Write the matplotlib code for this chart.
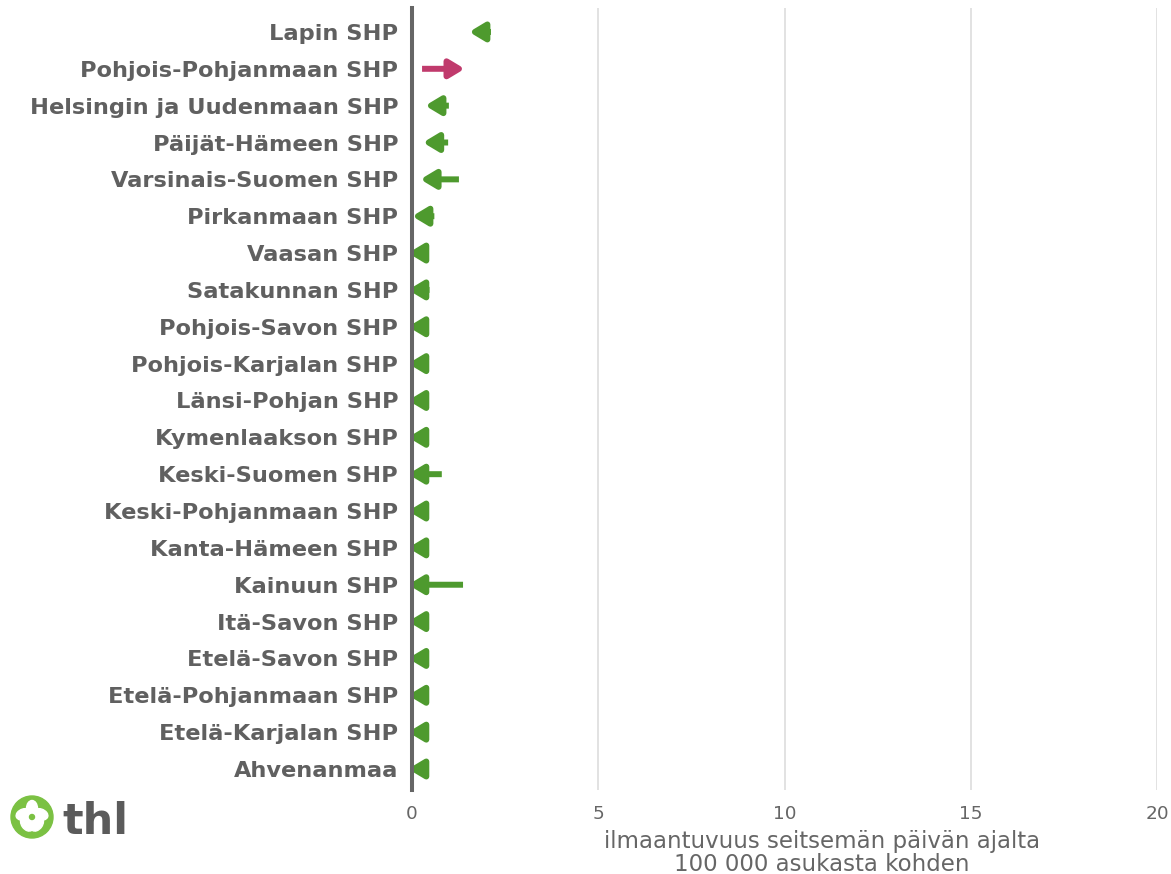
import math
import matplotlib.pyplot as plt
import matplotlib.transforms as mtransforms
from matplotlib.patches import Circle, Ellipse

# Sairaanhoitopiirit ja ilmaantuvuus (edellinen -> nykyinen viikko)
piirit = ['Lapin SHP', 'Pohjois-Pohjanmaan SHP', 'Helsingin ja Uudenmaan SHP',
          'Päijät-Hämeen SHP', 'Varsinais-Suomen SHP', 'Pirkanmaan SHP',
          'Vaasan SHP', 'Satakunnan SHP', 'Pohjois-Savon SHP',
          'Pohjois-Karjalan SHP', 'Länsi-Pohjan SHP', 'Kymenlaakson SHP',
          'Keski-Suomen SHP', 'Keski-Pohjanmaan SHP', 'Kanta-Hämeen SHP',
          'Kainuun SHP', 'Itä-Savon SHP', 'Etelä-Savon SHP',
          'Etelä-Pohjanmaan SHP', 'Etelä-Karjalan SHP', 'Ahvenanmaa']
alku = [2.12, 0.27, 0.99, 0.97, 1.26, 0.6,
        0.4, 0.47, 0.4, 0.4, 0.4, 0.4,
        0.8, 0.4, 0.4, 1.37, 0.4, 0.4, 0.4, 0.4, 0.4]
loppu = [1.64, 1.31, 0.46, 0.40, 0.33, 0.11,
         0, 0, 0, 0, 0, 0,
         0, 0, 0, 0, 0, 0, 0, 0, 0]
xtikit = [0, 5, 10, 15, 20]

vihrea = '#4e9a2e'
pinkki = '#c03a6c'
harmaa = '#606060'

fig = plt.figure(figsize=(11.71, 8.74), dpi=100)
ax = fig.add_axes([412 / 1171, 1 - 790 / 874, 745 / 1171, 782 / 874])

for i, (a, b) in enumerate(zip(alku, loppu)):
    ylos = b > a
    vari = pinkki if ylos else vihrea
    # kärki hieman eteenpäin, jotta pyöristetty kärki osuu arvoon
    siirto = mtransforms.offset_copy(ax.transData, fig=fig,
                                     x=4 if ylos else -4, units='dots')
    ax.annotate('', xy=(b, i), xycoords=siirto, xytext=(a, i), textcoords='data',
                arrowprops=dict(arrowstyle='-|>,head_length=0.45,head_width=0.27',
                                mutation_scale=20, color=vari, lw=4.3,
                                shrinkA=0, shrinkB=0, joinstyle='round',
                                capstyle='butt'),
                zorder=2, annotation_clip=False)

ax.set_xlim(0, 20)
ax.set_ylim(len(piirit) - 0.43, -0.65)
ax.set_yticks(range(len(piirit)))
ax.set_yticklabels(piirit, fontsize=16.2, fontweight='bold', color=harmaa)
ax.set_xticks(xtikit)
ax.set_xticklabels([str(t) for t in xtikit], fontsize=13.3, color='#666666')
ax.tick_params(axis='both', length=0)
ax.tick_params(axis='y', pad=10)
ax.tick_params(axis='x', pad=11)

for s in ['top', 'right', 'bottom']:
    ax.spines[s].set_visible(False)
ax.spines['left'].set_color('#666666')
ax.spines['left'].set_linewidth(2.9)
ax.spines['left'].set_zorder(5)

for t in xtikit[1:]:
    ax.axvline(t, color='#dddddd', lw=1.2, zorder=0)

fig.text(822 / 1171, 1 - 853 / 874,
         'ilmaantuvuus seitsemän päivän ajalta\n100 000 asukasta kohden',
         ha='center', va='center', fontsize=16.5, color='#666666', linespacing=1.0)

# THL-logo
lax = fig.add_axes([0, 0, 1, 1])
lax.set_xlim(0, 1171)
lax.set_ylim(874, 0)
lax.axis('off')
lax.add_patch(Circle((32, 817), 21, color='#7bc143'))
for k in range(5):
    kulma = 90 + 72 * k
    cx = 32 + 8.5 * math.cos(math.radians(kulma))
    cy = 817 - 8.5 * math.sin(math.radians(kulma))
    lax.add_patch(Ellipse((cx, cy), 11, 16, angle=kulma - 90, color='white'))
lax.add_patch(Circle((32, 817), 2.5, color='#7bc143'))
lax.text(62, 834, 'thl', fontsize=31, fontweight='bold', color='#5b5b5b',
         ha='left', va='baseline')

plt.savefig('out.png', dpi=100)
